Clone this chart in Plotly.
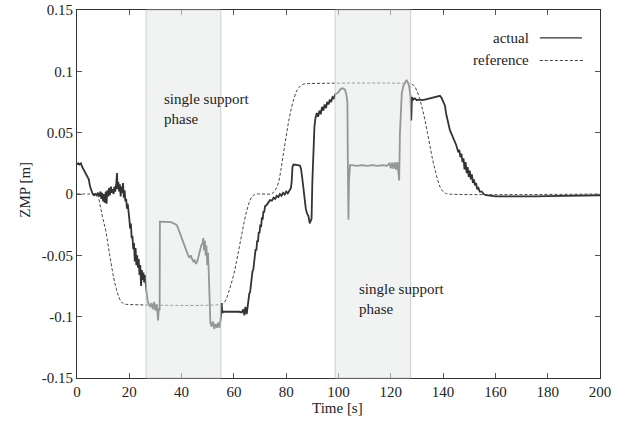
import plotly.graph_objects as go

# ---------------- data ----------------
ref_t = [0, 5, 7, 8, 9, 10, 11, 12, 13, 14, 15, 16, 17, 18, 19,
         55, 56, 57, 58, 59, 60, 61, 62, 63, 64, 65, 66, 67, 68, 69,
         74, 75, 76, 77, 78, 79, 80, 81, 82, 83, 84, 85, 86, 87, 88,
         127, 128, 129, 130, 131, 132, 133, 134, 135, 136, 137, 138, 139, 140, 141, 142, 200]
ref_v = [0, 0, 0, -0.002, -0.011, -0.021, -0.030, -0.043, -0.056, -0.068, -0.077, -0.084, -0.088, -0.0897, -0.09,
         -0.09, -0.089, -0.086, -0.080, -0.073, -0.065, -0.055, -0.044, -0.033, -0.022, -0.013, -0.006, -0.002, -0.0005, 0,
         0, 0.001, 0.004, 0.009, 0.020, 0.034, 0.047, 0.060, 0.070, 0.078, 0.084, 0.087, 0.089, 0.0898, 0.09,
         0.09, 0.0895, 0.088, 0.084, 0.078, 0.070, 0.061, 0.050, 0.039, 0.028, 0.019, 0.011, 0.005, 0.002, 0.0005, 0, 0]

act_t = [0, 0.5, 1.0, 1.5, 2.0, 2.5, 3.0, 3.5, 4.0, 4.5, 5.0, 5.5, 6.0, 6.5, 7.0,
         7.5, 8.0, 8.5, 9.0, 9.3, 9.6, 10.0, 10.3, 10.6, 11.0, 11.3, 11.6, 12.0, 12.3, 12.6,
         13.0, 13.3, 13.6, 14.0, 14.3, 14.6, 15.0, 15.3, 15.5, 15.8, 16.1, 16.4, 16.7, 17.0,
         17.3, 17.6, 17.9, 18.2, 18.5,
         18.8, 19.1, 19.4, 19.7, 20.0, 20.3, 20.6, 20.9, 21.2, 21.5, 21.8, 22.1, 22.4, 22.7,
         23.0, 23.3, 23.6, 23.9, 24.2, 24.5, 24.8, 25.1, 25.4, 25.7, 26.0,
         26.5, 27.0, 27.5, 28.0, 28.5, 29.0, 29.5, 30.0, 30.5, 31.0, 31.3, 31.6, 31.7,
         32, 33, 34, 35, 36, 37, 38, 38.5, 39, 39.5, 40, 40.5, 41, 41.5, 42, 42.5, 43, 43.5,
         44, 44.5, 45, 45.5, 46, 46.5, 47, 47.5, 48, 48.3, 48.6, 48.9, 49.2, 49.5, 49.8,
         50.1, 50.4, 50.7, 51.0, 51.5, 52.0, 52.5, 53.0, 53.5, 54.0, 54.5, 55.0, 55.3, 55.6, 56.0,
         57, 58, 59, 60, 61, 62, 63, 63.6, 64.0, 64.4, 64.9,
         65.3, 65.6, 65.9, 66.2, 66.5, 66.8, 67.1, 67.4, 67.7, 68.0, 68.3, 68.6, 68.9, 69.2,
         69.5, 69.8, 70.1, 70.4, 70.7, 71.0, 71.3, 71.6, 71.9, 72.5, 73.1, 73.8, 74.5, 75.2,
         75.8, 76.4, 77.0, 77.6, 78.2, 78.8, 79.4, 80.0, 80.6, 81.2, 81.8, 82.1,
         82.4, 82.8, 83.5, 84.5, 85.3, 85.7, 86.2, 86.6, 87.0, 87.5, 88.0, 88.5, 89.0, 89.4,
         89.7, 90.0, 90.4, 90.8, 91.2, 91.7, 92.2, 92.7, 93.2, 93.7, 94.2, 94.7, 95.2, 95.7,
         96.2, 96.7, 97.2, 97.7, 98.2, 98.7, 99.3, 100, 100.6, 101.2, 101.8, 102.5, 103.0,
         103.4, 103.6, 103.8, 104.0, 104.4,
         105, 107, 109, 111, 113, 115, 117, 118.5, 119.5, 120, 120.5, 121, 121.5, 122, 122.5,
         122.9, 123.2, 123.5, 123.8, 124.2, 124.8, 125.4, 126.0, 126.5, 127.0, 127.5, 127.8,
         128.1, 128.6, 129.2, 130, 131, 132, 133, 134, 135, 136, 137, 138, 138.8, 139.5, 140.2,
         140.7, 141.2, 141.7, 142.2, 142.6, 143, 143.4, 143.8, 144.2, 144.6, 145.0, 145.4,
         145.8, 146.2, 146.6, 147.0, 147.4, 147.8, 148.2, 148.6, 149.0, 149.4, 149.8, 150.2,
         150.6, 151.0, 151.4, 151.8, 152.2, 152.6, 153.0, 153.5, 154, 154.8, 155.5, 156.5,
         158, 160, 165, 170, 175, 180, 185, 190, 195, 200]
act_v = [0.024, 0.025, 0.024, 0.025, 0.022, 0.020, 0.018, 0.016, 0.014, 0.012, 0.006, 0.002, 0.000, -0.001, 0.000,
         -0.001, 0.001, -0.002, 0.002, -0.004, 0.001, -0.006, 0.000, -0.007, 0.002, -0.008, 0.003, -0.002, 0.005, -0.001,
         0.006, 0.001, 0.004, 0.000, 0.006, 0.002, 0.008, 0.017, 0.004, 0.010, 0.002, 0.008, -0.002, 0.006,
         0.001, 0.009, -0.003, 0.003, -0.006,
         -0.004, -0.012, -0.008, -0.018, -0.020, -0.028, -0.024, -0.036, -0.034, -0.045, -0.040, -0.055, -0.044, -0.058,
         -0.050, -0.060, -0.053, -0.066, -0.058, -0.075, -0.062, -0.070, -0.064, -0.072, -0.066,
         -0.078, -0.087, -0.090, -0.092, -0.089, -0.094, -0.088, -0.095, -0.090, -0.103, -0.093, -0.095, -0.0225,
         -0.0225, -0.0225, -0.023, -0.023, -0.023, -0.024, -0.025, -0.027, -0.030, -0.033, -0.036, -0.038, -0.042, -0.045, -0.048, -0.050, -0.052, -0.050,
         -0.053, -0.055, -0.054, -0.057, -0.055, -0.050, -0.046, -0.042, -0.040, -0.036, -0.046, -0.038, -0.050, -0.042, -0.058,
         -0.048, -0.065, -0.085, -0.105, -0.108, -0.104, -0.110, -0.106, -0.109, -0.105, -0.109, -0.100, -0.089, -0.097, -0.096,
         -0.096, -0.0955, -0.096, -0.096, -0.0955, -0.096, -0.0965, -0.094, -0.099, -0.092, -0.098,
         -0.090, -0.089, -0.081, -0.080, -0.072, -0.071, -0.063, -0.062, -0.054, -0.053, -0.045, -0.046, -0.038, -0.039,
         -0.031, -0.032, -0.025, -0.027, -0.019, -0.021, -0.014, -0.015, -0.010, -0.009, -0.007, -0.005, -0.0055, -0.003,
         -0.004, -0.0015, -0.0025, 0.000, -0.0015, 0.001, -0.0005, 0.002, 0.0005, 0.003, 0.005, 0.010,
         0.022, 0.024, 0.024, 0.0235, 0.023, 0.020, 0.012, 0.004, -0.005, -0.012, -0.016, -0.018, -0.024, -0.021,
         -0.020, 0.010, 0.041, 0.055, 0.062, 0.066, 0.063, 0.068, 0.065, 0.071, 0.068, 0.073, 0.070, 0.075,
         0.073, 0.077, 0.075, 0.079, 0.078, 0.081, 0.082, 0.083, 0.085, 0.086, 0.086, 0.085, 0.081,
         0.075, 0.020, -0.021, 0.010, 0.0235,
         0.0235, 0.023, 0.0235, 0.023, 0.0235, 0.023, 0.0235, 0.023, 0.025, 0.021, 0.0255, 0.0205, 0.026, 0.020, 0.026,
         0.019, 0.011, 0.050, 0.070, 0.082, 0.088, 0.091, 0.093, 0.091, 0.088, 0.080, 0.060,
         0.079, 0.077, 0.078, 0.0765, 0.077, 0.0765, 0.077, 0.0775, 0.078, 0.078, 0.079, 0.0795, 0.080, 0.078, 0.074,
         0.072, 0.065, 0.060, 0.056, 0.052, 0.050, 0.048, 0.046, 0.045, 0.042, 0.040, 0.037,
         0.034, 0.036, 0.030, 0.033, 0.026, 0.029, 0.020, 0.026, 0.017, 0.022, 0.014, 0.019,
         0.012, 0.016, 0.009, 0.012, 0.007, 0.009, 0.004, 0.005, 0.002, 0.002, 0.000, -0.001,
         -0.0015, -0.002, -0.002, -0.0022, -0.002, -0.0018, -0.0015, -0.0013, -0.0012, -0.001]

phase_start = [26.4, 98.7]
phase_end = [55.0, 127.6]
phase_label = "single support<br>phase"

x_ticks = [0, 20, 40, 60, 80, 100, 120, 140, 160, 180, 200]
y_ticks = [-0.15, -0.1, -0.05, 0, 0.05, 0.1, 0.15]
y_tick_text = ["-0.15", "-0.1", "-0.05", "0", "0.05", "0.1", "0.15"]

FONT = "Liberation Serif"
TXT = "#222222"

fig = go.Figure()
fig.add_trace(go.Scatter(x=act_t, y=act_v, mode="lines", name="actual",
                         line=dict(color="#333333", width=1.8), showlegend=False))
fig.add_trace(go.Scatter(x=ref_t, y=ref_v, mode="lines", name="reference",
                         line=dict(color="#444444", width=1, dash="3px,2px"),
                         line_shape="spline", showlegend=False))

for s, e in zip(phase_start, phase_end):
    fig.add_shape(type="rect", xref="x", yref="paper", x0=s, x1=e, y0=0, y1=1,
                  fillcolor="rgba(229,233,233,0.55)", line=dict(color="rgba(190,190,190,0.7)", width=1),
                  layer="above")

axis_common = dict(showline=True, linecolor="#333333", linewidth=1.2, mirror="ticks",
                   ticks="inside", ticklen=5, tickcolor="#555555", showgrid=False, zeroline=False,
                   automargin=False,
                   tickfont=dict(family=FONT, size=15, color=TXT))

fig.update_layout(
    width=630, height=423, autosize=False,
    margin=dict(l=77, r=30, t=10, b=45),
    paper_bgcolor="white", plot_bgcolor="white",
    font=dict(family=FONT, size=15, color=TXT),
    xaxis=dict(range=[0, 200], tickvals=x_ticks, **axis_common),
    yaxis=dict(range=[-0.15, 0.15], tickvals=y_ticks, ticktext=y_tick_text, **axis_common),
    showlegend=False,
)

annotations = [
    dict(text="Time [s]", xref="paper", yref="paper", x=0.499, y=-0.082, showarrow=False,
         xanchor="center", yanchor="middle", font=dict(family=FONT, size=15, color=TXT)),
    dict(text="ZMP [m]", xref="paper", yref="paper", x=-0.1, y=0.511, showarrow=False,
         textangle=-90, xanchor="center", yanchor="middle", font=dict(family=FONT, size=15, color=TXT)),
    dict(text=phase_label, xref="x", yref="y", x=32.5, y=0.0693, showarrow=False, align="left",
         xanchor="left", yanchor="middle", font=dict(family=FONT, size=15, color=TXT)),
    dict(text=phase_label, xref="x", yref="y", x=107.0, y=-0.0857, showarrow=False, align="left",
         xanchor="left", yanchor="middle", font=dict(family=FONT, size=15, color=TXT)),
    dict(text="actual", xref="paper", yref="paper", x=0.868, y=0.924, showarrow=False,
         xanchor="right", yanchor="middle", font=dict(family=FONT, size=15, color=TXT)),
    dict(text="reference", xref="paper", yref="paper", x=0.868, y=0.8628, showarrow=False,
         xanchor="right", yanchor="middle", font=dict(family=FONT, size=15, color=TXT)),
]
fig.update_layout(annotations=annotations)

# legend samples (gnuplot-style key: text then line sample)
fig.add_shape(type="line", xref="paper", yref="paper", x0=0.885, x1=0.9656, y0=0.924, y1=0.924,
              line=dict(color="#333333", width=1.3))
fig.add_shape(type="line", xref="paper", yref="paper", x0=0.885, x1=0.9675, y0=0.8628, y1=0.8628,
              line=dict(color="#444444", width=1, dash="3px,2px"))

fig.write_html(
    "out.html",
    config={"displayModeBar": False, "responsive": False},
    post_script="var d=document.getElementById('{plot_id}');"
                "d.style.position='absolute';d.style.left='0px';d.style.top='0px';",
)
